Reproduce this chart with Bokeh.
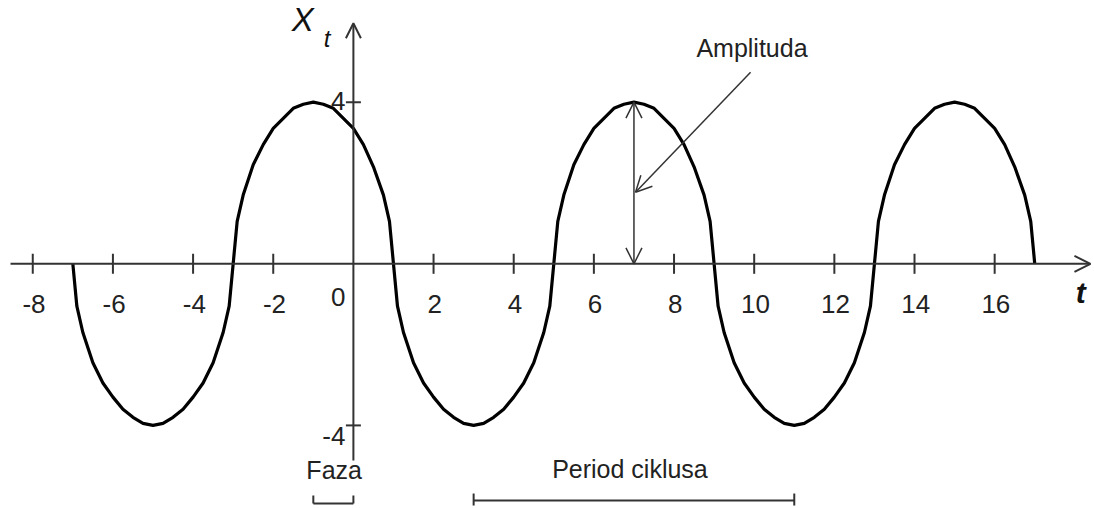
from bokeh.plotting import figure
from bokeh.models import Range1d, Arrow, OpenHead
from bokeh.embed import file_html
from bokeh.resources import INLINE
from bokeh.core.properties import value

# ---- data ----
t_values = [
    -7.0, -6.9, -6.75, -6.5, -6.25, -6.0, -5.75, -5.5, -5.25, -5.0, -4.75, -4.5, -4.25, -4.0, -3.75, -3.5, -3.25, -3.1,
    -3.0, -2.9, -2.75, -2.5, -2.25, -2.0, -1.75, -1.5, -1.25, -1.0, -0.75, -0.5, -0.25, 0.0, 0.25, 0.5, 0.75, 0.9,
    1.0, 1.1, 1.25, 1.5, 1.75, 2.0, 2.25, 2.5, 2.75, 3.0, 3.25, 3.5, 3.75, 4.0, 4.25, 4.5, 4.75, 4.9,
    5.0, 5.1, 5.25, 5.5, 5.75, 6.0, 6.25, 6.5, 6.75, 7.0, 7.25, 7.5, 7.75, 8.0, 8.25, 8.5, 8.75, 8.9,
    9.0, 9.1, 9.25, 9.5, 9.75, 10.0, 10.25, 10.5, 10.75, 11.0, 11.25, 11.5, 11.75, 12.0, 12.25, 12.5, 12.75, 12.9,
    13.0, 13.1, 13.25, 13.5, 13.75, 14.0, 14.25, 14.5, 14.75, 15.0, 15.25, 15.5, 15.75, 16.0, 16.25, 16.5, 16.75, 16.9,
    17.0,
]
x_values = [
    0.0, -1.05, -1.7, -2.45, -2.95, -3.3, -3.6, -3.8, -3.95, -4.0, -3.95, -3.8, -3.6, -3.3, -2.95, -2.45, -1.7, -1.05,
    0.0, 1.05, 1.7, 2.45, 2.95, 3.35, 3.6, 3.85, 3.95, 4.0, 3.95, 3.85, 3.6, 3.35, 2.95, 2.4, 1.7, 1.05,
    0.0, -1.05, -1.7, -2.45, -2.95, -3.3, -3.6, -3.8, -3.95, -4.0, -3.95, -3.8, -3.6, -3.3, -2.95, -2.45, -1.7, -1.05,
    0.0, 1.05, 1.7, 2.45, 2.95, 3.35, 3.6, 3.85, 3.95, 4.0, 3.95, 3.85, 3.6, 3.35, 2.95, 2.4, 1.7, 1.05,
    0.0, -1.05, -1.7, -2.45, -2.95, -3.3, -3.6, -3.8, -3.95, -4.0, -3.95, -3.8, -3.6, -3.3, -2.95, -2.45, -1.7, -1.05,
    0.0, 1.05, 1.7, 2.45, 2.95, 3.35, 3.6, 3.85, 3.95, 4.0, 3.95, 3.85, 3.6, 3.35, 2.95, 2.4, 1.7, 1.05,
    0.0,
]
x_ticks = [-8, -6, -4, -2, 2, 4, 6, 8, 10, 12, 14, 16]
x_tick_labels = ["-8", "-6", "-4", "-2", "2", "4", "6", "8", "10", "12", "14", "16"]
y_ticks = [4, -4]
y_tick_labels = ["4", "-4"]
amplitude = 4
amplitude_at = 7
period_span = [3, 11]
phase_span = [-1, 0]

FONT = value("Liberation Sans")
AX = "#333333"
TXT = "#222222"

p = figure(width=1092, height=506, output_backend="svg", toolbar_location=None,
           x_range=Range1d(-8.805, 18.441), y_range=Range1d(-6.007, 6.517),
           x_axis_type=None, y_axis_type=None, min_border=0,
           outline_line_color=None, background_fill_color="white",
           border_fill_color="white")
p.grid.visible = False

# axes with arrows
p.add_layout(Arrow(end=OpenHead(size=16, line_width=2, line_color=AX),
                   x_start=-8.555, y_start=0, x_end=18.39, y_end=0,
                   line_width=2, line_color=AX))
p.add_layout(Arrow(end=OpenHead(size=15, line_width=2, line_color=AX),
                   x_start=0, y_start=-4.87, x_end=0, y_end=5.955,
                   line_width=2, line_color=AX))

# tick marks
p.segment(x0=x_ticks, y0=[-0.2475] * len(x_ticks), x1=x_ticks, y1=[0.2475] * len(x_ticks),
          line_width=2, line_color=AX)
p.segment(x0=[-0.187] * len(y_ticks), y0=y_ticks, x1=[0.187] * len(y_ticks), y1=y_ticks,
          line_width=2, line_color=AX)

# tick labels
p.text(x=[v + 0.03 for v in x_ticks], y=[-0.983] * len(x_ticks), text=x_tick_labels,
       text_font=FONT, text_font_size="26px", text_align="center",
       text_baseline="alphabetic", text_color=TXT)
p.text(x=[-0.2, -0.2], y=[4.04, -4.25], text=y_tick_labels,
       text_font=FONT, text_font_size="26px", text_align="right",
       text_baseline="alphabetic", text_color=TXT)
p.text(x=[-0.2], y=[-0.81], text=["0"], text_font=FONT, text_font_size="26px",
       text_align="right", text_baseline="alphabetic", text_color=TXT)

# axis titles
p.text(x=[-1.54], y=[5.60], text=["X"], text_font=FONT, text_font_size="33px",
       text_font_style="italic", text_align="left", text_color="#111111")
p.text(x=[-0.74], y=[5.23], text=["t"], text_font=FONT, text_font_size="24px",
       text_font_style="italic", text_align="left", text_color="#111111")
p.text(x=[18.02], y=[-1.13], text=["t"], text_font=FONT, text_font_size="30px",
       text_font_style="bold italic", text_align="left", text_color="#111111")

# the wave
p.line(t_values, x_values, line_width=3.2, line_color="black", line_join="round")

# amplitude double arrow
p.add_layout(Arrow(start=OpenHead(size=16, line_width=1.5, line_color=AX),
                   end=OpenHead(size=16, line_width=1.5, line_color=AX),
                   x_start=amplitude_at, y_start=0, x_end=amplitude_at, y_end=amplitude,
                   line_width=1.5, line_color=AX))
# pointer from label
p.add_layout(Arrow(end=OpenHead(size=16, line_width=1.5, line_color=AX),
                   x_start=9.91, y_start=4.74, x_end=7.04, y_end=1.77,
                   line_width=1.5, line_color=AX))
p.text(x=[9.945], y=[5.007], text=["Amplituda"], text_font=FONT, text_font_size="25px",
       text_align="center", text_color=TXT)

# period bracket
p.segment(x0=[period_span[0]], y0=[-5.859], x1=[period_span[1]], y1=[-5.859],
          line_width=2, line_color=AX)
p.segment(x0=period_span, y0=[-5.686, -5.686], x1=period_span, y1=[-5.983, -5.983],
          line_width=2, line_color=AX)
p.text(x=[6.9], y=[-5.413], text=["Period ciklusa"], text_font=FONT, text_font_size="25px",
       text_align="center", text_color=TXT)

# phase bracket
p.segment(x0=[phase_span[0]], y0=[-5.933], x1=[phase_span[1]], y1=[-5.933],
          line_width=2, line_color=AX)
p.segment(x0=phase_span, y0=[-5.735, -5.735], x1=phase_span, y1=[-5.933, -5.933],
          line_width=2, line_color=AX)
p.text(x=[-0.48], y=[-5.438], text=["Faza"], text_font=FONT, text_font_size="25px",
       text_align="center", text_color=TXT)

open("out.html", "w").write(file_html(p, INLINE))
